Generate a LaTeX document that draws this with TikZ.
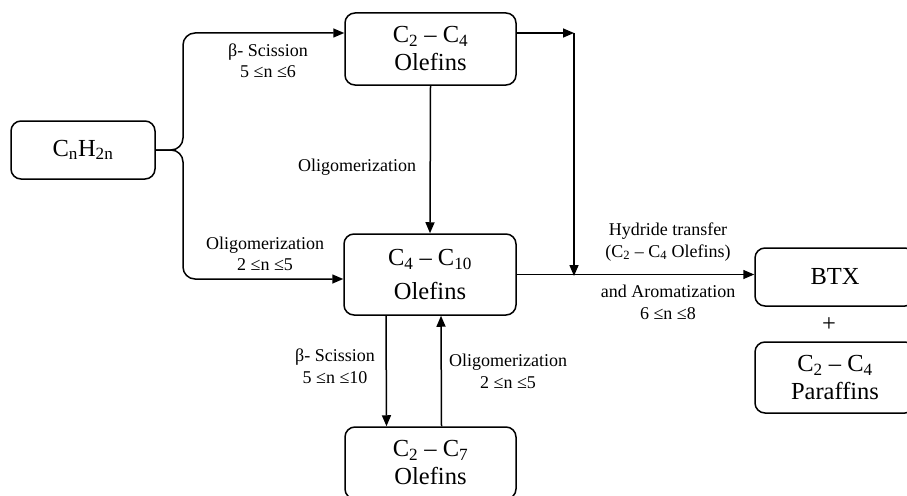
\documentclass[tikz,border=0pt]{standalone}
\usepackage{fontspec}
\setmainfont{Liberation Serif}
\usetikzlibrary{arrows.meta}

\begin{document}
\begin{tikzpicture}[
        x                       = 1pt,
        y                       = -1pt,
        line width              = 1.5pt,
        box/.style              = {draw, rounded corners=10pt, align=center, inner sep=0pt,
                                   font=\fontsize{24.5}{28}\selectfont},
        lbl/.style              = {align=center, inner sep=0pt, font=\fontsize{18}{21.5}\selectfont},
        flow/.style             = {draw, -{Triangle[length=11pt,width=9pt]}},
        % rounded corners       = 12pt,
      ]
        \useasboundingbox (0,0) rectangle (907,495);

        % boxes
        \node[box, minimum width=144pt, minimum height=58pt] (src) at (83,150)
            {C\textsubscript{n}H\textsubscript{2n}};
        \node[box, minimum width=171pt, minimum height=72pt] (c24) at (430.5,49)
            {C\textsubscript{2} – C\textsubscript{4}\\Olefins};
        \node[box, minimum width=172pt, minimum height=81pt] (c410) at (430,274.5)
            {C\textsubscript{4} – C\textsubscript{10}\\[6pt]Olefins};
        \node[box, minimum width=171pt, minimum height=72pt] (c27) at (430.5,463)
            {C\textsubscript{2} – C\textsubscript{7}\\Olefins};
        \node[box, minimum width=160pt, minimum height=58pt] (btx) at (835,277) {BTX};
        \node[box, minimum width=160pt, minimum height=71pt] (par) at (835,377.5)
            {C\textsubscript{2} – C\textsubscript{4}\\Paraffins};
        \node[inner sep=0pt, font=\fontsize{24.5}{28}\selectfont] (plus) at (829,325) {+};

        \coordinate (fork) at (183,150);
        \coordinate (turn) at (574,33);
        \coordinate (join) at (574,276);

        % connectors
        \draw[flow, rounded corners=12pt] (src.east) -- (fork) |- ([yshift=16pt]c24.west);
        \draw[flow, rounded corners=12pt] (src.east) -- (fork) |- ([yshift=-4.5pt]c410.west);
        \draw[flow] (c24.south) -- (c410.north);
        \draw[flow] ([yshift=16pt]c24.east) -- (turn);
        \draw[flow] (turn) -- (join);
        \draw[flow] (c410.east) -- (c410.east -| btx.west);
        \draw[flow] ([xshift=-44pt]c410.south) -- ([xshift=-44pt]c27.north);
        \draw[flow] ([xshift=11pt]c27.north) -- ([xshift=11pt]c410.south);

        % labels
        \node[lbl] (scis1)  at (268,61)    {β- Scission\\5 ≤n ≤6};
        \node[lbl] (oligo1) at (357,167)   {Oligomerization};
        \node[lbl] (oligo2) at (265,254)   {Oligomerization\\2 ≤n ≤5};
        \node[lbl] (hyd)    at (668,242)   {Hydride transfer\\(C\textsubscript{2} – C\textsubscript{4} Olefins)};
        \node[lbl] (arom)   at (668,302.5) {and Aromatization\\6 ≤n ≤8};
        \node[lbl] (scis2)  at (335,366)   {β- Scission\\5 ≤n ≤10};
        \node[lbl] (oligo3) at (508,371.5) {Oligomerization\\2 ≤n ≤5};
    \end{tikzpicture}
\end{document}
